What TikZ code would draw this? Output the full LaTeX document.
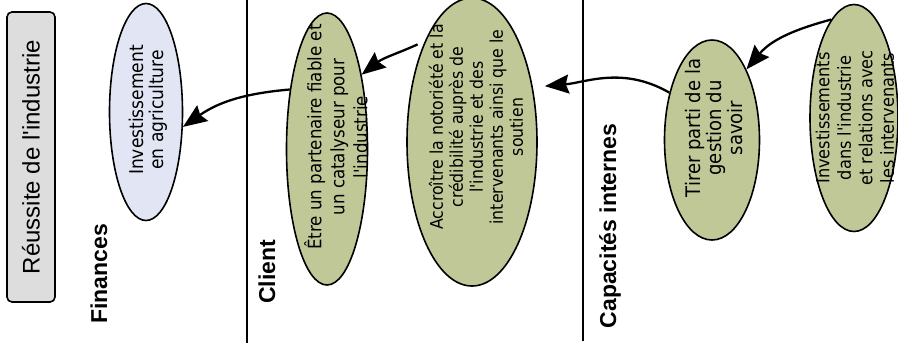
\documentclass[tikz,border=0pt]{standalone}
\usepackage{fontspec}
\setmainfont{DejaVu Sans}
\newfontfamily\goalfont{DejaVu Sans Condensed}
\newfontfamily\headfont{Liberation Sans}
\usetikzlibrary{arrows.meta,shapes.geometric}
\definecolor{goalgreen}{RGB}{192,200,152}
\definecolor{goallav}{RGB}{226,229,244}
\definecolor{boxgrey}{RGB}{221,221,221}

\begin{document}
\begin{tikzpicture}[x=1pt,y=1pt,
      goal/.style={ellipse,draw,line width=1.6pt,fill=goalgreen,inner sep=0pt},
      goaltext/.style={rotate=90,align=center,inner sep=0pt},
      persp/.style={rotate=90,inner sep=0pt,font=\headfont\bfseries\fontsize{23}{26}\selectfont},
      arrow/.style={-{Stealth[length=24pt,width=19pt,inset=3pt]},line width=2.3pt},
      divider/.style={line width=1.1pt}
    ]
      \useasboundingbox (0,0) rectangle (898,-349);
      \node[rotate=90,draw,line width=1.6pt,rounded corners=5pt,fill=boxgrey,minimum width=290pt,minimum height=48pt,font=\headfont\fontsize{24}{28}\selectfont] (success) at (31,-157) {Réussite de l'industrie};
      \draw[divider] (247,0) -- (247,-343);
      \draw[divider] (583,0) -- (583,-341);
      \node[persp] (finances) at (99,-274) {Finances};
      \node[persp] (client) at (267,-272) {Client};
      \node[persp] (internes) at (610,-226) {Capacités internes};
      \node[goal,fill=goallav,minimum width=73pt,minimum height=217pt] (invagri) at (146,-112) {};
      \node[goaltext,font=\goalfont\fontsize{19}{20}\selectfont] (invagri-t) at (148,-110) {Investissement\\en agriculture};
      \node[goal,minimum width=81pt,minimum height=272pt] (partner) at (327,-149) {};
      \node[goaltext,font=\goalfont\fontsize{18.5}{23}\selectfont] (partner-t) at (336,-137) {Être un partenaire fiable et\\un catalyseur pour\\l'industrie};
      \node[goal,minimum width=130pt,minimum height=288pt] (notoriete) at (472,-142) {};
      \node[goaltext,font=\goalfont\fontsize{17.5}{20}\selectfont] (notoriete-t) at (476,-127) {Accroître la notoriété et la\\crédibilité auprès de\\l'industrie et des\\intervenants ainsi que le\\soutien};
      \node[goal,minimum width=95pt,minimum height=200pt] (savoir) at (712,-140) {};
      \node[goaltext,font=\goalfont\fontsize{20}{21}\selectfont] (savoir-t) at (714,-128) {Tirer parti de la\\gestion du\\savoir};
      \node[goal,minimum width=88pt,minimum height=227pt] (invinds) at (854,-118) {};
      \node[goaltext,font=\goalfont\fontsize{18}{21.5}\selectfont] (invinds-t) at (855,-118) {Investissements\\dans l'industrie\\et relations avec\\les intervenants};
      \draw[arrow] (invinds.103) to[out=195,in=50] (savoir.64);
      \draw[arrow,shorten >=12pt] (savoir.132) to[out=150,in=5] (notoriete.42);
      \draw[arrow,shorten <=8pt] (notoriete.115) to[out=205,in=38] (partner.65);
      \draw[arrow] (partner.122) to[out=185,in=35] (invagri.-22);
    \end{tikzpicture}
\end{document}
